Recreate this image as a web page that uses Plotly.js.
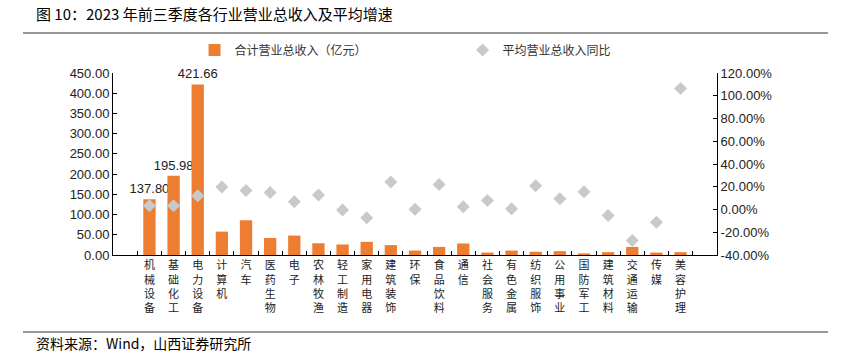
<!DOCTYPE html>
<html><head><meta charset="utf-8">
<script src="https://cdn.plot.ly/plotly-3.0.1.min.js"></script>
<style>html,body{margin:0;padding:0;background:#fff;}#chart{width:850px;height:361px;}</style>
</head><body><div id="chart"></div>
<script>
const categories = ['机械设备','基础化工','电力设备','计算机','汽车','医药生物','电子','农林牧渔','轻工制造','家用电器','建筑装饰','环保','食品饮料','通信','社会服务','有色金属','纺织服饰','公用事业','国防军工','建筑材料','交通运输','传媒','美容护理'];
const revenue = [137.80,195.98,421.66,57.8,85.9,42,48,29,26,32.6,24.4,11,20,28.5,6,11,8,9.5,4,7,20,6,7];
const growth = [3.3,3.3,12.1,19.7,16.7,15,6.8,12.8,-0.5,-7.3,24.1,0.3,22,2.4,7.9,0.6,20.9,9.4,15.6,-5.3,-27.3,-11.1,106.3];
const labeled = ['137.80','195.98','421.66'];
const leftTicks = [0,50,100,150,200,250,300,350,400,450];
const rightTicks = [-40,-20,0,20,40,60,80,100,120];

const ticktext = categories.map(c => c.split('').join('<br>'));
const barText = revenue.map((v,i) => i < labeled.length ? labeled[i] : '');

const traces = [
  {type:'bar', x:categories, y:revenue, name:'合计营业总收入（亿元）',
   marker:{color:'#ED7D31'}, text:barText, textposition:'outside', constraintext:'none',
   textfont:{family:'Liberation Sans, Arial', size:13, color:'#222'}, cliponaxis:false},
  {type:'scatter', mode:'markers', x:categories, y:growth, yaxis:'y2', name:'平均营业总收入同比',
   marker:{symbol:'diamond', size:10, color:'#C9C9C9'}}
];
const layout = {
  width:850, height:361, margin:{l:113, r:133, t:73, b:106},
  paper_bgcolor:'#fff', plot_bgcolor:'#fff', showlegend:true, bargap:0.49,
  font:{family:'Liberation Sans, Arial', color:'#222'},
  xaxis:{tickmode:'array', tickvals:categories, ticktext:ticktext, tickangle:0,
    showline:true, linecolor:'#000', linewidth:1, ticks:'inside', ticklen:4, tickcolor:'#000',
    tickson:'boundaries', showgrid:false, zeroline:false,
    tickfont:{family:'Noto Sans CJK SC', size:11, color:'#222'}},
  yaxis:{range:[0,450], tickvals:leftTicks, ticktext:leftTicks.map(v=>v.toFixed(2)),
    showline:true, linecolor:'#000', linewidth:1, ticks:'inside', ticklen:4, tickcolor:'#000',
    showgrid:false, zeroline:false, tickfont:{size:13, color:'#222'}},
  yaxis2:{overlaying:'y', side:'right', range:[-40,120], tickvals:rightTicks,
    ticktext:rightTicks.map(v=>v.toFixed(2)+'%'),
    showline:true, linecolor:'#000', linewidth:1, ticks:'inside', ticklen:4, tickcolor:'#000',
    showgrid:false, zeroline:false, tickfont:{size:13, color:'#222'}},
  legend:{orientation:'h', x:0.135, y:1.127, yanchor:'middle', xanchor:'left',
    entrywidth:223, font:{family:'Noto Sans CJK SC', size:12, color:'#333'}, bgcolor:'rgba(0,0,0,0)'},
  annotations:[
    {text:'图 10：2023 年前三季度各行业营业总收入及平均增速', xref:'paper', yref:'paper',
     x:-0.131, y:(255-13)/182, xanchor:'left', yanchor:'middle', showarrow:false,
     font:{family:'Noto Sans CJK SC', size:15, color:'#000'}},
    {text:'资料来源：Wind，山西证券研究所', xref:'paper', yref:'paper',
     x:-0.131, y:(255-343)/182, xanchor:'left', yanchor:'middle', showarrow:false,
     font:{family:'Noto Sans CJK SC', size:14, color:'#000'}}
  ],
  shapes:[
    {type:'line', xref:'paper', yref:'paper', x0:-0.149, x1:1.184, y0:(255-33)/182, y1:(255-33)/182,
     line:{color:'#777', width:1.5}},
    {type:'line', xref:'paper', yref:'paper', x0:-0.149, x1:1.184, y0:(255-332)/182, y1:(255-332)/182,
     line:{color:'#777', width:1.5}}
  ]
};
Plotly.newPlot('chart', traces, layout, {displayModeBar:false, staticPlot:true});
</script></body></html>
